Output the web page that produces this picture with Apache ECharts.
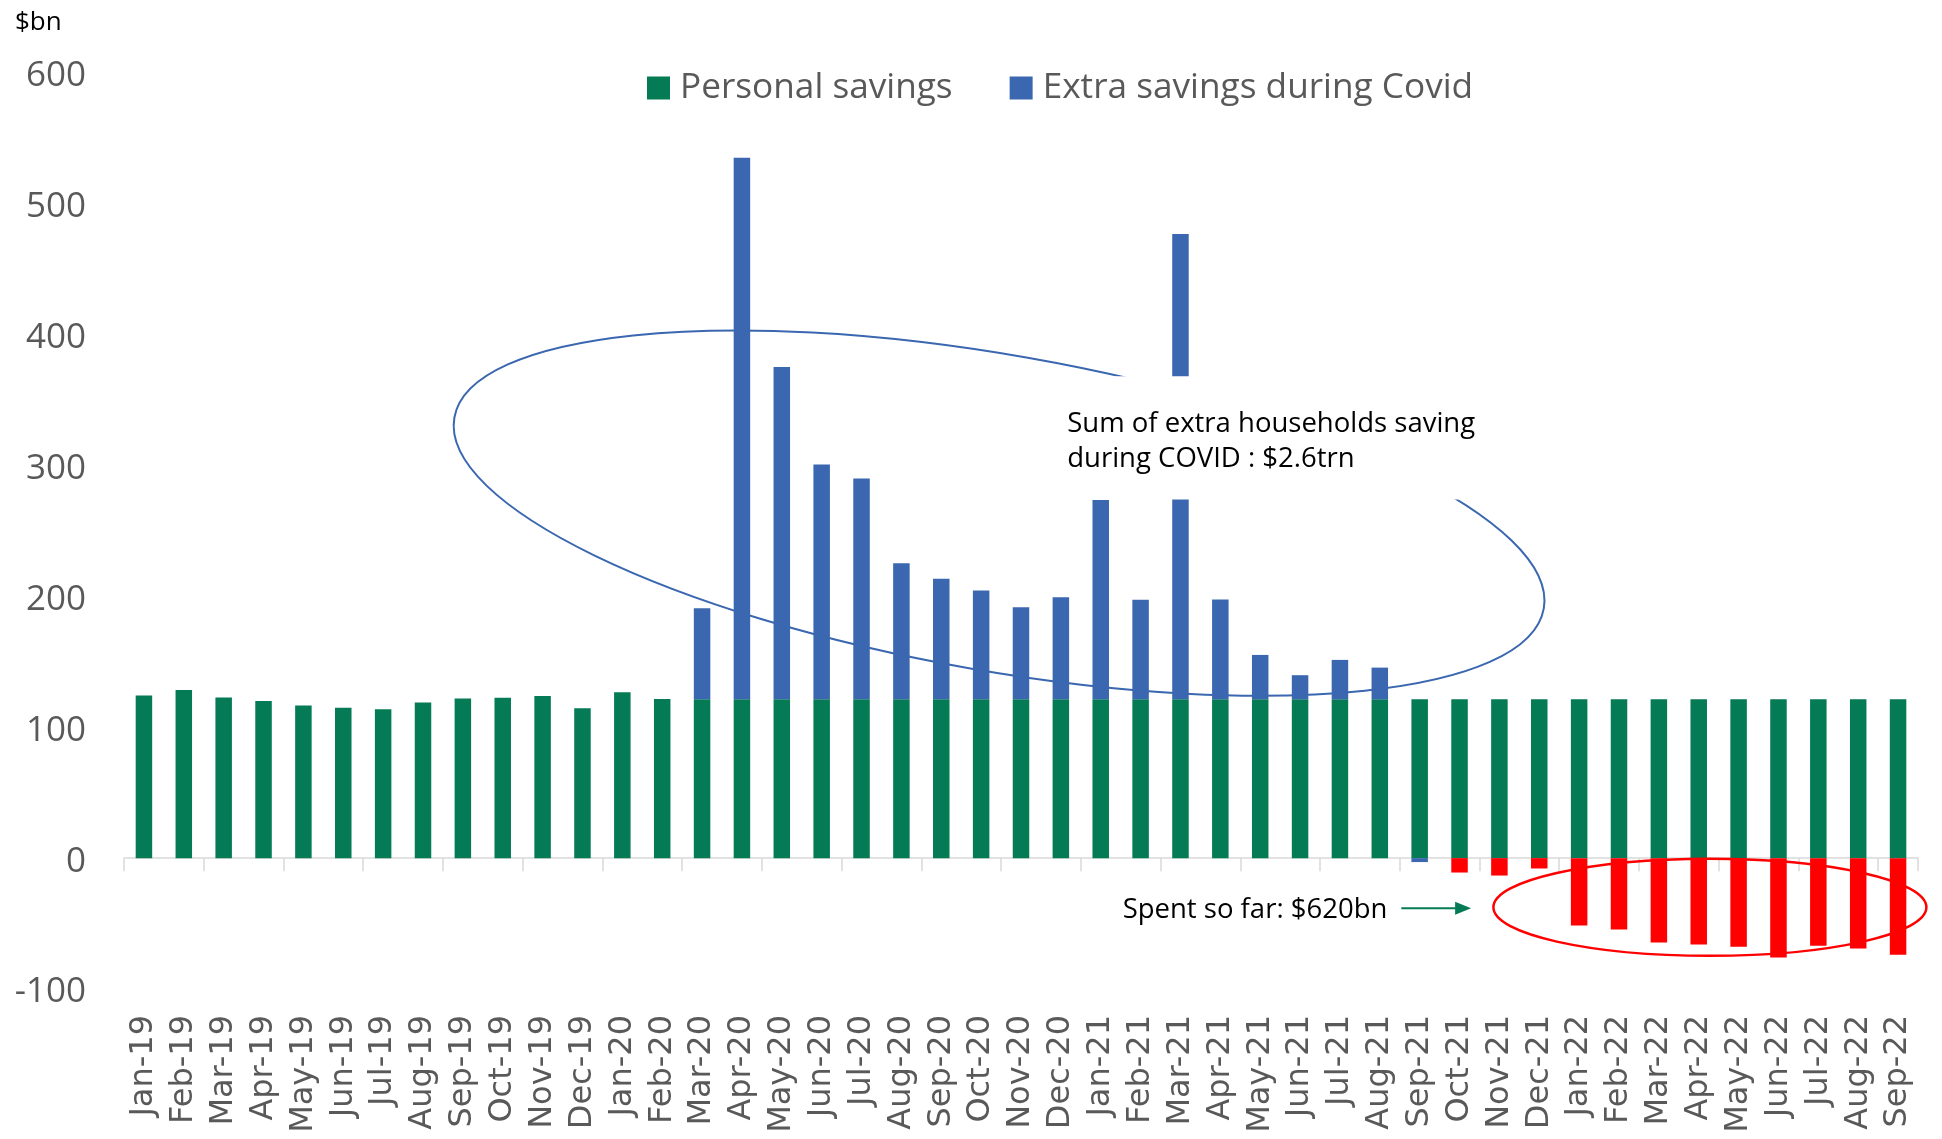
<!DOCTYPE html>
<html>
<head>
<meta charset="utf-8">
<script src="https://cdn.jsdelivr.net/npm/echarts@6/dist/echarts.min.js"></script>
<style>
html,body{margin:0;padding:0;background:#ffffff;}
#chart{width:1942px;height:1139px;}
</style>
</head>
<body>
<div id="chart"></div>
<script>
// ---- Data ----
const categories = [
  'Jan-19','Feb-19','Mar-19','Apr-19','May-19','Jun-19','Jul-19','Aug-19','Sep-19','Oct-19','Nov-19','Dec-19',
  'Jan-20','Feb-20','Mar-20','Apr-20','May-20','Jun-20','Jul-20','Aug-20','Sep-20','Oct-20','Nov-20','Dec-20',
  'Jan-21','Feb-21','Mar-21','Apr-21','May-21','Jun-21','Jul-21','Aug-21','Sep-21','Oct-21','Nov-21','Dec-21',
  'Jan-22','Feb-22','Mar-22','Apr-22','May-22','Jun-22','Jul-22','Aug-22','Sep-22'
];
const personalSavings = [
  124.2,128.5,122.8,120.0,116.6,114.9,113.8,118.9,122.0,122.5,123.9,114.6,
  126.8,121.7,121.4,121.4,121.4,121.4,121.4,121.4,121.4,121.4,121.4,121.4,
  121.4,121.4,121.4,121.4,121.4,121.4,121.4,121.4,121.4,121.4,121.4,121.4,
  121.4,121.4,121.4,121.4,121.4,121.4,121.4,121.4,121.4
];
const extraSavings = [
  null,null,null,null,null,null,null,null,null,null,null,null,
  null,null,69.6,413.8,253.9,179.5,168.7,104.0,92.1,83.1,70.4,78.0,
  152.3,76.1,355.6,76.3,33.9,18.4,30.1,24.2,-3.0,null,null,null,
  null,null,null,null,null,null,null,null,null
];
const spentSoFar = [
  null,null,null,null,null,null,null,null,null,null,null,null,
  null,null,null,null,null,null,null,null,null,null,null,null,
  null,null,null,null,null,null,null,null,null,-11.0,-13.3,-7.9,
  -51.5,-54.5,-64.5,-66.0,-67.8,-75.9,-67.0,-69.0,-73.9
];
const yMin = -100, yMax = 600, yInterval = 100;
const legendNames = ['Personal savings', 'Extra savings during Covid'];
const unitLabel = '$bn';
const noteCovid = ['Sum of extra households saving', 'during COVID : $2.6trn'];
const noteSpent = 'Spent so far: $620bn';

const GREEN = '#047B54', BLUE = '#3A67B0', RED = '#FF0000';
const GREY = '#595959';

const chart = echarts.init(document.getElementById('chart'), null, {renderer: 'canvas'});

chart.setOption({
  animation: false,
  backgroundColor: '#ffffff',
  grid: {left: 124, right: 24, top: 73, bottom: 150, containLabel: false, outerBoundsMode: 'none'},
  legend: {
    data: legendNames,
    left: 647, top: 70.5, padding: 0,
    icon: 'rect', itemWidth: 23, itemHeight: 23, itemGap: 57,
    textStyle: {fontFamily: 'Open Sans', fontSize: 35.2, color: GREY, padding: [0, 0, 0, 5]}
  },
  xAxis: [
    {
      type: 'category', data: categories, position: 'bottom',
      axisLine: {onZero: true, lineStyle: {color: '#D9D9D9', width: 1.5}},
      axisTick: {show: true, length: 13, lineStyle: {color: '#D9D9D9', width: 1.5}},
      axisLabel: {show: false},
      splitLine: {show: false}
    },
    {
      type: 'category', data: categories, position: 'bottom',
      axisLine: {show: false, onZero: false},
      axisTick: {show: false},
      splitLine: {show: false},
      axisLabel: {interval: 0, rotate: 90, margin: 26, fontFamily: 'DejaVu Sans', fontSize: 32, color: GREY}
    }
  ],
  yAxis: {
    type: 'value', min: yMin, max: yMax, interval: yInterval,
    axisLine: {show: false}, axisTick: {show: false}, splitLine: {show: false},
    axisLabel: {
      margin: 38,
      formatter: '{v|{value}}',
      rich: {v: {fontFamily: 'Open Sans', fontSize: 35, color: GREY, padding: [7, 0, 0, 0]}}
    }
  },
  series: [
    {name: legendNames[0], type: 'bar', stack: 'total', data: personalSavings, barWidth: 16.5, itemStyle: {color: GREEN}},
    {name: legendNames[1], type: 'bar', stack: 'total', data: extraSavings, barWidth: 16.5, itemStyle: {color: BLUE}},
    {name: 'Spent', type: 'bar', stack: 'total', data: spentSoFar, barWidth: 16.5, itemStyle: {color: RED}}
  ]
});

// ---- Annotations, anchored in data space (category index, value) ----
function px(idx, val) {
  const i0 = Math.floor(idx), f = idx - i0;
  const x0 = chart.convertToPixel({xAxisIndex: 0}, i0);
  const x1 = chart.convertToPixel({xAxisIndex: 0}, i0 + 1);
  const y = chart.convertToPixel({yAxisIndex: 0}, val);
  return [x0 + f * (x1 - x0), y];
}

const blueC = px(21.45, 263.7);
const redC = px(39.28, -37.6);
const boxA = px(22.85, 368.3), boxB = px(33.9, 274.0);
const note1 = px(23.16, 332.0);
const note2 = px(24.55, -39.5);
const arrA = px(31.54, -38.2), arrB = px(33.29, -38.2);

chart.setOption({
  graphic: [
    {type: 'text', left: 15, top: 10, z: 100,
     style: {text: unitLabel, fontFamily: 'Open Sans', fontSize: 26, fill: '#000000'}},
    {type: 'ellipse', x: blueC[0], y: blueC[1], rotation: -9.95 * Math.PI / 180, z: 100,
     shape: {cx: 0, cy: 0, rx: 553, ry: 158},
     style: {fill: 'none', stroke: BLUE, lineWidth: 2}},
    {type: 'rect', z: 101,
     shape: {x: boxA[0], y: boxA[1], width: boxB[0] - boxA[0], height: boxB[1] - boxA[1]},
     style: {fill: '#ffffff'}},
    {type: 'text', x: note1[0], y: note1[1] - 17.5, z: 102,
     style: {text: noteCovid.join('\n'), fontFamily: 'Open Sans', fontSize: 27.5, lineHeight: 35,
             fill: '#000000', align: 'left', verticalAlign: 'top', textAlign: 'left', textVerticalAlign: 'top'}},
    {type: 'ellipse', x: redC[0], y: redC[1], z: 100,
     shape: {cx: 0, cy: 0, rx: 216.5, ry: 48.5},
     style: {fill: 'none', stroke: RED, lineWidth: 2.5}},
    {type: 'text', x: note2[0], y: note2[1], z: 102,
     style: {text: noteSpent, fontFamily: 'Open Sans', fontSize: 27.5, fill: '#000000',
             align: 'left', verticalAlign: 'middle', textAlign: 'left', textVerticalAlign: 'middle'}},
    {type: 'line', z: 100,
     shape: {x1: arrA[0], y1: arrA[1], x2: arrB[0] - 14, y2: arrB[1]},
     style: {stroke: GREEN, lineWidth: 2}},
    {type: 'polygon', z: 100,
     shape: {points: [[arrB[0], arrB[1]], [arrB[0] - 16, arrB[1] - 6.5], [arrB[0] - 16, arrB[1] + 6.5]]},
     style: {fill: GREEN}}
  ]
});
</script>
</body>
</html>
